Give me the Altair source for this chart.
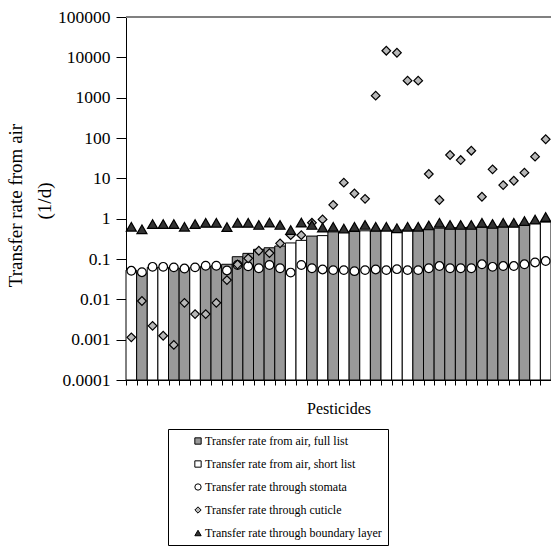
import altair as alt
import pandas as pd

# ---------------- data ----------------
cats = list(range(1, 41))

full_list = [None, 0.045, None, None, 0.060, 0.058, None, 0.065, 0.068, 0.074,
             0.114, 0.138, 0.174, 0.19, 0.21, None, None, 0.37, None, 0.47,
             None, 0.48, None, 0.50, None, None, None, 0.54, 0.55, 0.58,
             0.60, 0.60, 0.61, 0.62, 0.63, 0.64, None, 0.69, None, None]

short_list = [0.053, None, 0.062, 0.062, None, None, 0.062, None, None, None,
              None, None, None, None, None, 0.25, 0.29, None, 0.38, None,
              0.47, None, 0.50, None, 0.51, 0.52, 0.53, None, None, None,
              None, None, None, None, None, None, 0.66, None, 0.76, 0.82]

stomata = [0.051, 0.047, 0.064, 0.064, 0.062, 0.058, 0.062, 0.068, 0.068, 0.052,
           0.071, 0.066, 0.059, 0.071, 0.059, 0.046, 0.071, 0.059, 0.055, 0.053,
           0.053, 0.050, 0.053, 0.055, 0.053, 0.056, 0.053, 0.053, 0.059, 0.067,
           0.059, 0.059, 0.059, 0.074, 0.064, 0.067, 0.067, 0.074, 0.082, 0.089]

cuticle = [0.00114, 0.0091, 0.0022, 0.00125, 0.00074, 0.0082, 0.0043, 0.0043, 0.0082, 0.030,
           0.073, 0.104, 0.16, 0.14, 0.245, 0.39, 0.39, 0.79, 0.96, 2.2,
           7.8, 4.2, 3.1, 1120, 14600, 13000, 2640, 2640, 12.8, 2.9,
           37.9, 28.4, 48.4, 3.5, 16.7, 6.8, 8.7, 13.8, 34.4, 93]

boundary = [0.63, 0.545, 0.736, 0.736, 0.736, 0.63, 0.736, 0.79, 0.79, 0.62,
            0.79, 0.79, 0.70, 0.80, 0.70, 0.52, 0.80, 0.70, 0.60, 0.63,
            0.57, 0.63, 0.70, 0.63, 0.63, 0.58, 0.63, 0.63, 0.68, 0.79,
            0.70, 0.70, 0.70, 0.79, 0.74, 0.79, 0.79, 0.87, 0.95, 1.1]

series_names = ["Transfer rate from air, full list",
                "Transfer rate from air, short list",
                "Transfer rate through stomata",
                "Transfer rate through cuticle",
                "Transfer rate through boundary layer"]
y_ticks = [0.0001, 0.001, 0.01, 0.1, 1, 10, 100, 1000, 10000, 100000]
y_title = "Transfer rate from air"
y_unit = "(1/d)"
x_title = "Pesticides"

fills = ["#999999", "#ffffff", "#ffffff", "#b8b8b8", "#333333"]
shapes = ["square", "square", "circle", "diamond", "triangle-up"]

rows = []
for i, c in enumerate(cats):
    for name, arr in zip(series_names, [full_list, short_list, stomata, cuticle, boundary]):
        if arr[i] is not None:
            rows.append({"cat": c, "series": name, "value": arr[i]})
df = pd.DataFrame(rows)

FONT = "Liberation Serif"
W, H = 425, 363

legend = alt.Legend(title=None, orient="none", legendX=42, legendY=412,
                    strokeColor="black", fillColor="white", padding=6,
                    labelFont=FONT, labelFontSize=12, labelColor="black",
                    labelLimit=0, symbolSize=40, symbolStrokeColor="black",
                    symbolStrokeWidth=1, rowPadding=11, symbolOffset=18,
                    labelOffset=1, cornerRadius=0)

x = alt.X("cat:O", sort=cats,
          scale=alt.Scale(paddingInner=0, paddingOuter=0),
          axis=alt.Axis(title=x_title, labels=False, tickBand="extent",
                        tickSize=5, tickColor="black", domainColor="black",
                        titleFont=FONT, titleFontSize=16, titleFontWeight="normal",
                        titleColor="black", titleY=20, titleBaseline="top", grid=False))
y = alt.Y("value:Q",
          scale=alt.Scale(type="log", domain=[0.0001, 100000], nice=False),
          axis=alt.Axis(values=y_ticks, format="~g", grid=False,
                        title=y_title,
                        labelFont=FONT, labelFontSize=17.5, labelColor="black",
                        labelPadding=6, tickSize=10, tickColor="black",
                        domainColor="black", titleFont=FONT, titleFontSize=19,
                        titleFontWeight="normal", titleColor="black",
                        titleAngle=270, titleX=-111, titleY=188,
                        titleAlign="center", titleBaseline="middle"))

fill_enc = alt.Fill("series:N", scale=alt.Scale(domain=series_names, range=fills), legend=legend)
shape_enc = alt.Shape("series:N", scale=alt.Scale(domain=series_names, range=shapes), legend=legend)

base = alt.Chart(df)

bars = base.transform_filter(
    alt.FieldOneOfPredicate(field="series", oneOf=series_names[:2])
).mark_bar(stroke="black", strokeWidth=1).encode(
    x=x, y=y, y2=alt.datum(0.0001), fill=fill_enc)

def pts(name, size):
    return base.transform_filter(alt.datum.series == name).mark_point(
        filled=True, stroke="black", strokeWidth=1.2, opacity=1, size=size
    ).encode(x=x, y=y, fill=fill_enc, shape=shape_enc)

stom = pts(series_names[2], 75)
cut = pts(series_names[3], 75)
bnd = pts(series_names[4], 100)

top_line = alt.Chart(df).mark_rule(color="#808080", strokeWidth=2).encode(
    x=alt.value(0), x2=alt.value(W), y=alt.value(0))

unit_text = alt.Chart(pd.DataFrame({"t": [y_unit]})).mark_text(
    font=FONT, fontSize=19, angle=270, align="center", baseline="middle",
    color="black"
).encode(text="t:N", x=alt.value(-81), y=alt.value(184))

chart = alt.layer(bars, stom, cut, bnd, top_line, unit_text).properties(
    width=W, height=H,
    autosize=alt.AutoSizeParams(type="none"),
    padding={"left": 126, "top": 17, "right": 0, "bottom": 173},
    background="white",
).configure_view(stroke=None)

chart.save("out.html", embed_options={"renderer": "svg", "actions": False})
